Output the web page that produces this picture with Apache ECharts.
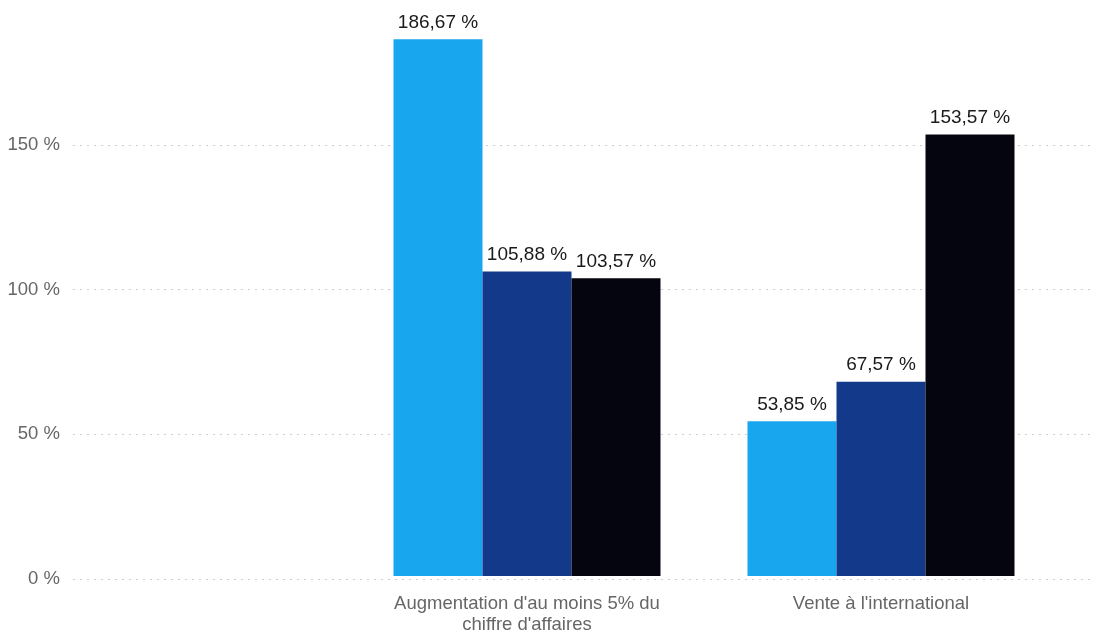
<!DOCTYPE html>
<html>
<head>
<meta charset="utf-8">
<script src="https://cdn.jsdelivr.net/npm/echarts@6/dist/echarts.min.js"></script>
<style>
html,body{margin:0;padding:0;background:#fff;}
#c{width:1095px;height:635px;}
</style>
</head>
<body>
<div id="c"></div>
<script>
var categories = ["Augmentation d'au moins 5% du\nchiffre d'affaires", "Vente à l'international"];
var series1 = [186.67, 53.85];
var series2 = [105.88, 67.57];
var series3 = [103.57, 153.57];
var yTicks = [0, 50, 100, 150];
var colors = ['#18a6ef', '#12398a', '#04050f'];

var chart = echarts.init(document.getElementById('c'));
var FONT = 'Liberation Sans, Arial, sans-serif';
function fmt(v){ return v.toFixed(2).replace('.', ',') + ' %'; }
function mk(name, data, color){
  return {
    type: 'bar', name: name, data: data, xAxisIndex: 1, yAxisIndex: 1,
    barWidth: 89, barGap: '0%',
    itemStyle: {color: color},
    label: {show: true, position: 'top', distance: 7, color: '#1a1a1a', fontSize: 19, fontFamily: FONT,
      formatter: function(p){ return fmt(p.value); }}
  };
}
chart.setOption({
  animation: false,
  grid: [
    {left: 73, right: 2, top: 145, bottom: 56},
    {left: 350, right: 37, top: 1, bottom: 56}
  ],
  xAxis: [
    {gridIndex: 0, type: 'value', show: false, min: 0, max: 1},
    {gridIndex: 1, type: 'category', data: categories,
      axisLine: {show: false}, axisTick: {show: false},
      axisLabel: {color: '#666', fontSize: 18.5, fontFamily: FONT, margin: 17, lineHeight: 21}}
  ],
  yAxis: [
    {gridIndex: 0, type: 'value', min: yTicks[0], max: yTicks[yTicks.length-1], interval: 50,
      axisLine: {show: false}, axisTick: {show: false},
      axisLabel: {color: '#666', fontSize: 18.5, fontFamily: FONT, margin: 13,
        formatter: function(v){ return v + ' %'; }},
      splitLine: {show: true, lineStyle: {color: '#cfcfcf', type: [2, 5], width: 1}}},
    {gridIndex: 1, type: 'value', min: 0, max: 200, show: false, splitLine: {show: false}}
  ],
  series: [
    mk('s1', series1, colors[0]),
    mk('s2', series2, colors[1]),
    mk('s3', series3, colors[2])
  ]
});
</script>
</body>
</html>
